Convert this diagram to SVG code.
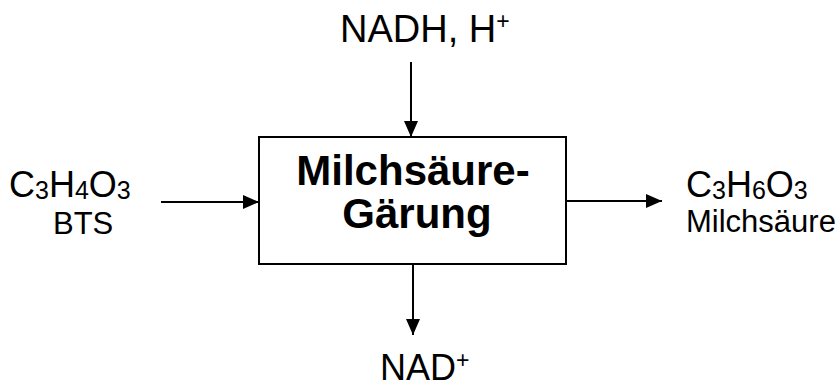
<svg xmlns="http://www.w3.org/2000/svg" width="838" height="388" viewBox="0 0 838 388">
<style>
text{font-family:"Liberation Sans",Arial,sans-serif;fill:#000}
.f{font-size:36px}
.n{font-size:31px}
.b{font-size:42px;font-weight:bold}
.sub{font-size:25px}
.sup{font-size:23px}
.c{fill:none;stroke:#000;stroke-width:2}
</style>
<defs>
<marker id="ah" markerUnits="userSpaceOnUse" markerWidth="16" markerHeight="14" refX="16" refY="7" orient="auto">
<path d="M0,0 L16,7 L0,14 Z" fill="#000"/>
</marker>
</defs>
<g id="process">
<rect x="259" y="137" width="307" height="127" fill="#fff" stroke="#000" stroke-width="2"/>
<text class="b" x="413" y="185" text-anchor="middle">Milchsäure-</text>
<text class="b" x="417" y="228" text-anchor="middle">Gärung</text>
</g>
<g id="input-nadh">
<text class="f" x="340" y="42" style="font-size:38px">NADH, H<tspan class="sup" dy="-13">+</tspan></text>
</g>
<g id="input-bts">
<text class="f" x="9" y="197">C<tspan class="sub" dy="2">3</tspan><tspan dy="-2">H</tspan><tspan class="sub" dy="2">4</tspan><tspan dy="-2">O</tspan><tspan class="sub" dy="2">3</tspan></text>
<text class="n" x="53" y="234">BTS</text>
</g>
<g id="output-milchsaeure">
<text class="f" x="686" y="197">C<tspan class="sub" dy="2">3</tspan><tspan dy="-2">H</tspan><tspan class="sub" dy="2">6</tspan><tspan dy="-2">O</tspan><tspan class="sub" dy="2">3</tspan></text>
<text class="n" x="686" y="232">Milchsäure</text>
</g>
<g id="output-nad">
<text class="f" x="380" y="380">NAD<tspan class="sup" dy="-12">+</tspan></text>
</g>
<g id="connectors">
<line class="c" x1="411" y1="62" x2="411" y2="137" marker-end="url(#ah)"/>
<line class="c" x1="161" y1="202" x2="259" y2="202" marker-end="url(#ah)"/>
<line class="c" x1="566" y1="201" x2="662" y2="201" marker-end="url(#ah)"/>
<line class="c" x1="413" y1="264" x2="413" y2="335" marker-end="url(#ah)"/>
</g>
</svg>
